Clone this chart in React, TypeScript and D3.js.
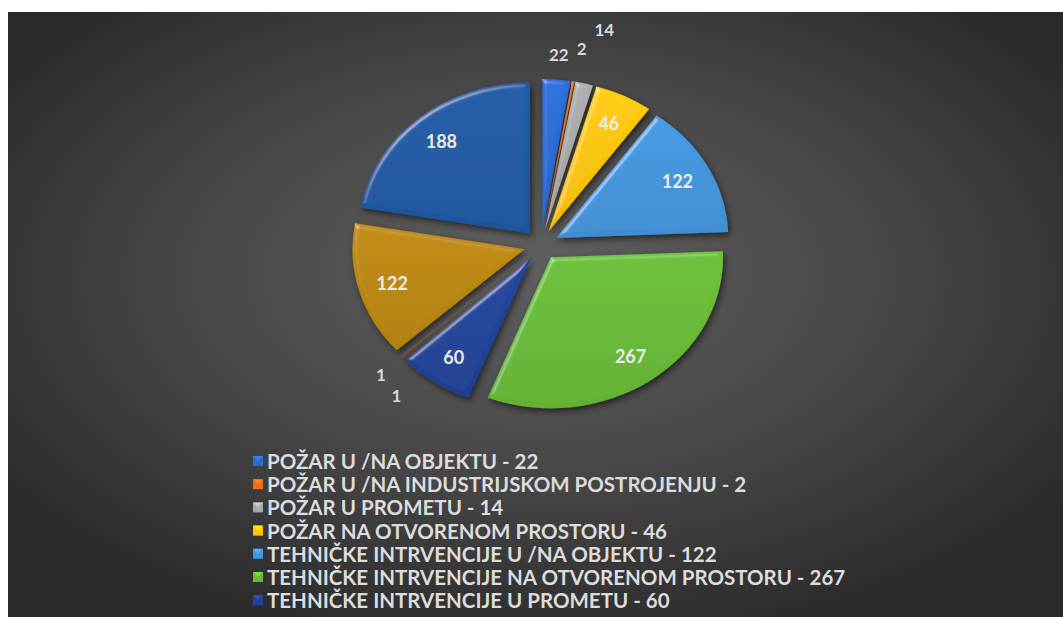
import React from "react";
import * as d3 from "d3";

const W = 1063;
const H = 617;

// Slice values in drawing order (clockwise from 12 o'clock)
const values = [22, 2, 14, 46, 122, 267, 60, 1, 1, 122, 188];
// Slice colours (as rendered in the reference's gradient style)
const colors = [
  "#2a6cd4", "#ed6d1f", "#a9a9a9", "#ffc600", "#4396dc", "#68bb36",
  "#21449a", "#9e480e", "#636363", "#bb880a", "#1c5aa3",
];
// Legend entries visible in the reference (the rest are cut off at the bottom)
const legendLabels = [
  "POŽAR U /NA OBJEKTU - 22",
  "POŽAR U /NA INDUSTRIJSKOM POSTROJENJU - 2",
  "POŽAR U PROMETU - 14",
  "POŽAR NA OTVORENOM PROSTORU - 46",
  "TEHNIČKE INTRVENCIJE U /NA OBJEKTU - 122",
  "TEHNIČKE INTRVENCIJE NA OTVORENOM PROSTORU - 267",
  "TEHNIČKE INTRVENCIJE U PROMETU - 60",
];

const FONT = "Lato, 'Open Sans', sans-serif";

export default function App() {
  const cx = 541, cy = 245, R = 151, sx = 1.14, explode = 15;
  const total = d3.sum(values);
  const arcs = d3.pie<number>().sort(null).value((d) => d)(values);
  const arcGen = d3.arc<d3.PieArcDatum<number>>().innerRadius(0).outerRadius(R);

  const toXY = (ang: number, r: number) => [cx + sx * r * Math.sin(ang), cy - r * Math.cos(ang)];

  // labels
  type Lab = { x: number; y: number; text: string; inside: boolean; color: string };
  const labels: Lab[] = [];
  const placed: { x0: number; x1: number; y0: number; y1: number }[] = [];
  arcs.forEach((a) => {
    const mid = (a.startAngle + a.endAngle) / 2;
    const inside = a.value / total > 0.03;
    if (inside) {
      const [x, y] = toXY(mid, R * 0.8 + explode);
      labels.push({ x, y, text: String(a.value), inside, color: "#ececec" });
    } else {
      const [x0, y0] = toXY(mid, R + 40);
      const w = String(a.value).length * 9.5 + 2;
      const h = 17;
      const up = Math.cos(mid) > 0;
      const dir = up ? -1 : 1; // push vertically away from centre
      const xs = up ? 0.9 : 1.5;
      let box = { x0: x0 - w / 2, x1: x0 + w / 2, y0: y0 - h / 2, y1: y0 + h / 2 };
      for (let k = 0; k < 60; k++) {
        const y = y0 + dir * k * 2;
        const x = x0 + k * xs;
        box = { x0: x - w / 2, x1: x + w / 2, y0: y - h / 2, y1: y + h / 2 };
        const hit = placed.some(
          (p) => !(box.x1 + 6 < p.x0 || box.x0 - 6 > p.x1 || box.y1 + 2 < p.y0 || box.y0 - 2 > p.y1)
        );
        if (!hit) break;
      }
      placed.push(box);
      labels.push({ x: (box.x0 + box.x1) / 2, y: (box.y0 + box.y1) / 2, text: String(a.value), inside, color: "#d9d9d9" });
    }
  });

  const legendX = 253;
  const legendY0 = 461;
  const legendStep = 23.2;

  return (
    <svg
      width={W}
      height={H}
      style={{ position: "absolute", left: 0, top: 0, display: "block" }}
      xmlns="http://www.w3.org/2000/svg"
    >
      <defs>
        <radialGradient id="bg" cx="0.5" cy="0.45" r="0.62" fx="0.5" fy="0.42">
          <stop offset="0" stopColor="#5f5f5f" />
          <stop offset="0.55" stopColor="#464646" />
          <stop offset="1" stopColor="#2a2a2a" />
        </radialGradient>
        {arcs.map((a, i) => {
          const c = d3.color(colors[i])!;
          return (
            <linearGradient key={i} id={`g${i}`} x1="0" y1="0" x2="0" y2="1">
              <stop offset="0" stopColor={c.brighter(0.1).formatHex()} />
              <stop offset="1" stopColor={c.darker(0.15).formatHex()} />
            </linearGradient>
          );
        })}
        <filter id="bevel" x="-20%" y="-20%" width="140%" height="140%">
          <feGaussianBlur in="SourceAlpha" stdDeviation="2" result="blur" />
          <feSpecularLighting in="blur" surfaceScale="3" specularConstant="0.9" specularExponent="28" lightingColor="#ffffff" result="spec">
            <feDistantLight azimuth="235" elevation="30" />
          </feSpecularLighting>
          <feComposite in="spec" in2="SourceAlpha" operator="in" result="specIn" />
          <feComposite in="SourceGraphic" in2="specIn" operator="arithmetic" k1="0" k2="1" k3="0.4" k4="0" result="lit" />
          <feGaussianBlur in="SourceAlpha" stdDeviation="3" result="sblur" />
          <feOffset in="sblur" dx="2" dy="3" result="soff" />
          <feFlood floodColor="#000000" floodOpacity="0.55" />
          <feComposite in2="soff" operator="in" result="shadow" />
          <feMerge>
            <feMergeNode in="shadow" />
            <feMergeNode in="lit" />
          </feMerge>
        </filter>
      </defs>

      <rect x={0} y={0} width={W} height={H} fill="#ffffff" />
      <rect x={8} y={12} width={W - 8} height={H - 12} fill="url(#bg)" />

      {arcs.map((a, i) => {
        const mid = (a.startAngle + a.endAngle) / 2;
        const tx = cx + sx * explode * Math.sin(mid);
        const ty = cy - explode * Math.cos(mid);
        return (
          <g key={i} transform={`translate(${tx},${ty}) scale(${sx},1)`}>
            <path d={arcGen(a) || ""} fill={`url(#g${i})`} filter="url(#bevel)" />
          </g>
        );
      })}

      {labels.map((l, i) => (
        <text
          key={i}
          x={l.x}
          y={l.y}
          textAnchor="middle"
          dominantBaseline="central"
          fontFamily={FONT}
          fontWeight="bold"
          fontSize={l.inside ? 18 : 17}
          fill={l.color}
        >
          {l.text}
        </text>
      ))}

      {legendLabels.map((t, i) => {
        const y = legendY0 + i * legendStep;
        const c = d3.color(colors[i])!;
        return (
          <g key={i}>
            <rect x={legendX} y={y - 5} width={10} height={10} fill={c.formatHex()} />
            <path
              d={`M${legendX},${y - 5} L${legendX + 10},${y - 5} L${legendX + 5},${y} Z`}
              fill={c.brighter(0.6).formatHex()}
              opacity={0.8}
            />
            <text
              x={legendX + 14}
              y={y}
              dominantBaseline="central"
              fontFamily={FONT}
              fontWeight="bold"
              fontSize={20.5}
              fill="#dcdcdc"
            >
              {t}
            </text>
          </g>
        );
      })}
    </svg>
  );
}
